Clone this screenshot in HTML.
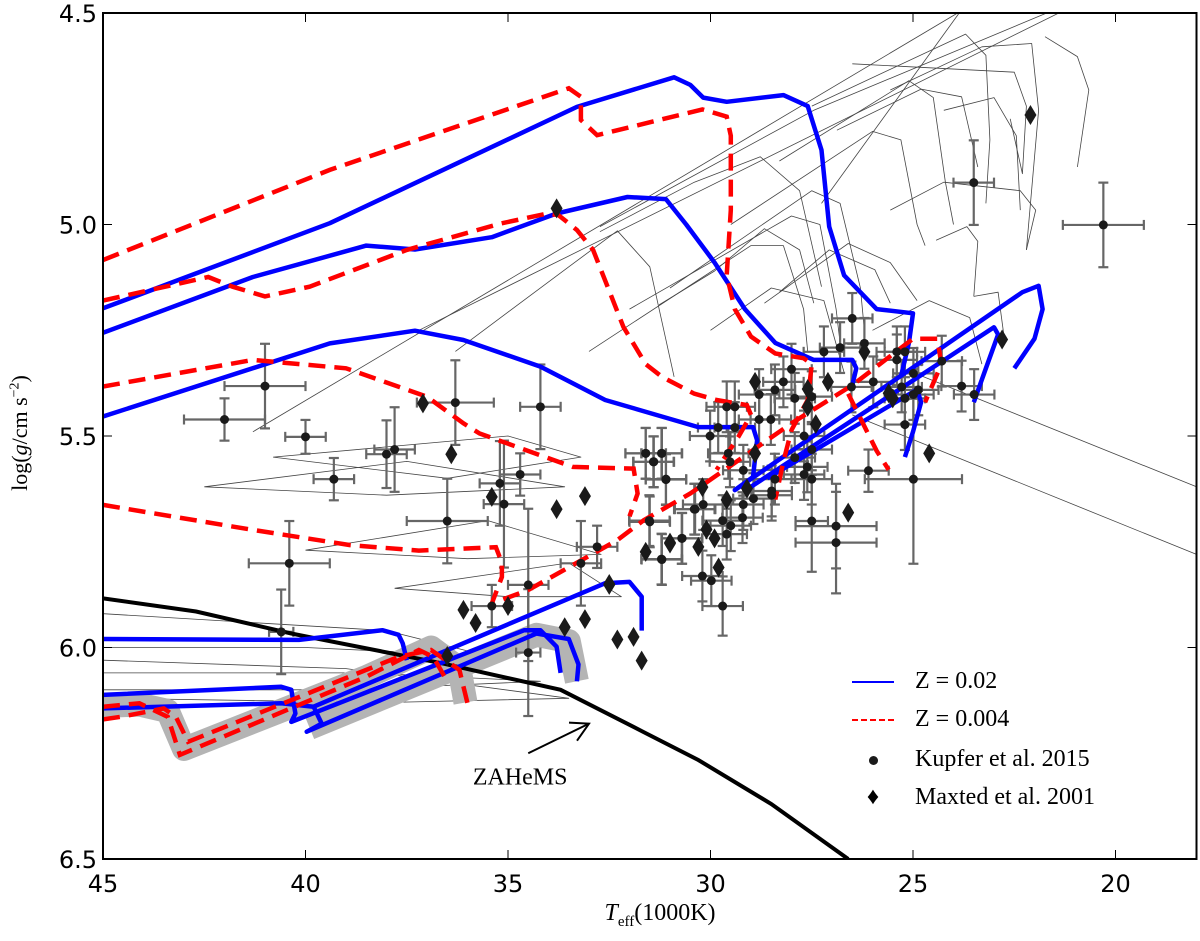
<!DOCTYPE html>
<html><head><meta charset="utf-8"><style>
html,body{margin:0;padding:0;background:#fff;}
svg{display:block;}
.tk{font-family:"DejaVu Sans","Liberation Sans",sans-serif;font-size:24px;fill:#000;}
.sr{font-family:"Liberation Serif",serif;fill:#000;}
</style></head><body>
<svg id="chart" width="1200" height="941" viewBox="0 0 1200 941">
<defs><clipPath id="pc"><rect x="103" y="13" width="1094" height="846"/></clipPath></defs>
<g id="plot" clip-path="url(#pc)"></g>
<g id="axes"></g>
</svg>
<script>
// ---- data (T in 1000K, log g) ----
const xTicks = [45, 40, 35, 30, 25, 20];
const yTicks = [4.5, 5.0, 5.5, 6.0, 6.5];
const zahems = [[45,5.884],[42.7,5.915],[40.35,5.967],[36.6,6.038],[33.7,6.1],[31.65,6.2],[30.3,6.266],[28.5,6.37],[26.6,6.5]];
const grayBand1 = [[45.5,6.14],[44.1,6.135],[43.4,6.15],[43.0,6.24],[38.5,6.07],[36.9,6.0],[36.2,6.05],[36.05,6.13]];
const grayBand2 = [[39.9,6.19],[34.3,5.97],[33.5,5.985],[33.3,6.08]];
const blue1 = [[45,5.198],[39.4,4.997],[33.3,4.722],[30.9,4.652],[30.5,4.67],[30.18,4.70],[29.6,4.71],[28.2,4.694],[27.6,4.72],[27.26,4.824],[27.07,5.005],[26.7,5.12],[25.9,5.2],[25.0,5.21],[25.1,5.28],[25.3,5.36]];
const blue2 = [[45,5.256],[41.3,5.124],[38.5,5.05],[37.3,5.059],[35.4,5.03],[33.8,4.974],[32.05,4.935],[31.1,4.94],[30.6,5.0],[29.9,5.09],[29.15,5.2],[28.4,5.28],[27.45,5.32],[26.5,5.32],[26.4,5.34],[26.5,5.38]];
const blue3 = [[45,5.454],[39.4,5.281],[37.3,5.251],[36.1,5.273],[34.2,5.336],[32.6,5.415],[30.3,5.479],[28.95,5.479],[28.85,5.51],[28.95,5.597],[29.4,5.628],[22.3,5.16],[21.9,5.145],[21.8,5.2],[22.0,5.27],[22.5,5.34]];
const blueHook2 = [[29.0,5.62],[23.0,5.243],[22.9,5.26],[23.2,5.34],[23.5,5.42]];
const blueHook3 = [[28.6,5.60],[24.9,5.39],[24.8,5.42],[25.0,5.49],[25.2,5.55]];
const blue4 = [[45,5.98],[40.16,5.982],[38.1,5.959],[37.7,5.97],[37.6,5.99],[37.5,6.03]];
const blue5 = [[45,6.112],[40.6,6.093],[40.35,6.10],[40.25,6.156],[40.35,6.176],[34.6,5.959],[34.2,5.959],[33.8,5.998],[33.7,6.06]];
const blue6 = [[45,6.144],[40.6,6.132],[39.8,6.14],[39.6,6.18],[39.97,6.199],[34.3,5.967],[33.5,5.98],[33.26,6.04],[33.3,6.08]];
const blue7 = [[39.8,6.14],[32.6,5.848],[32.0,5.845],[31.7,5.88],[31.7,5.96]];
const red1 = [[45,5.084],[39.4,4.871],[33.5,4.678],[33.2,4.698],[33.2,4.753],[32.8,4.789],[30.2,4.728],[29.6,4.745],[29.5,4.79],[29.5,4.966],[29.6,5.12],[29.4,5.2],[29.0,5.265],[28.4,5.305],[27.7,5.316],[27.5,5.33],[27.6,5.415],[28.0,5.486],[28.2,5.56],[28.4,5.65]];
const red2 = [[45,5.18],[42.4,5.124],[41.8,5.147],[41.0,5.17],[39.9,5.147],[37.5,5.06],[35.2,4.998],[34.03,4.974],[33.75,4.978],[33.3,5.013],[32.9,5.06],[32.15,5.242],[31.6,5.33],[31.2,5.36],[30.4,5.40],[29.85,5.415],[29.1,5.427],[29.0,5.45],[29.3,5.50],[29.85,5.58]];
const red3 = [[45,5.383],[41.3,5.32],[39.0,5.34],[37.0,5.407],[36.1,5.47],[35.7,5.494],[33.4,5.573],[31.9,5.577],[31.8,5.636],[32.0,5.69]];
const red4 = [[45,5.663],[41.3,5.722],[38.9,5.758],[37.2,5.771],[35.3,5.763],[35.15,5.8],[35.15,5.833],[35.4,5.896],[34.5,5.864],[32.3,5.746],[31.65,5.699],[30.5,5.636],[29.5,5.57],[28.0,5.47],[26.5,5.38],[25.0,5.27],[24.4,5.27],[24.3,5.33],[24.7,5.42]];
const red5 = [[45,6.17],[44.5,6.163],[43.5,6.144],[43.2,6.164],[42.9,6.223],[37.7,6.022],[36.9,6.006],[36.2,6.053],[36.0,6.132]];
const red6 = [[45,6.14],[44.1,6.132],[43.4,6.164],[43.1,6.254],[38.5,6.069],[37.2,6.006],[36.85,6.022],[36.5,6.08]];
const red7 = [[26.6,5.40],[25.9,5.535],[25.6,5.58]];
const thin1 = [[41.3,5.49],[23.9,4.5]];
const thin2 = [[37.2,5.25],[21.4,4.5]];
const thin3 = [[36.3,5.30],[33.5,5.1],[32.3,5.015],[31.5,5.1],[30.9,5.36]];
const thin4 = [[33.0,5.3],[29.0,5.05],[28.2,5.05],[27.7,5.2],[27.6,5.3]];
const thin5 = [[31.0,5.15],[27.5,4.92],[26.8,4.95],[26.3,5.15],[26.2,5.25]];
const thin6 = [[29.5,5.0],[26.0,4.78],[25.3,4.8],[24.9,5.0],[24.7,5.05]];
const thin7 = [[28.3,4.85],[25.1,4.66],[24.5,4.7],[24.2,4.9],[24.0,5.0]];
const thin8 = [[27.5,4.72],[23.7,4.55],[23.2,4.6],[23.1,4.8],[23.2,4.95]];
const thin9 = [[26.5,4.62],[22.5,4.64],[22.2,4.72],[22.3,4.88],[22.6,4.75]];
const thin10 = [[32.0,5.2],[28.0,4.98],[27.3,5.0],[26.9,5.2],[26.8,5.28]];
const thin11 = [[25.0,5.35],[18.0,5.62]];
const thin12 = [[26.5,5.45],[18.0,5.78]];
const thin13 = [[40.8,5.55],[35.0,5.50],[33.2,5.55],[36.5,5.60],[40.8,5.55]];
const thin14 = [[42.5,5.62],[37.5,5.56],[33.6,5.62],[38.0,5.64],[42.5,5.62]];
const thin15 = [[40.0,5.77],[35.5,5.70],[32.7,5.78],[36.0,5.79],[40.0,5.77]];
const thin16 = [[45,5.92],[38.0,5.96],[35.5,6.02],[40.0,6.0],[45,6.0]];
const thin17 = [[45,6.06],[38.5,6.06],[34.2,6.08],[39.0,6.1],[45,6.1]];
const thin18 = [[45,6.03],[39.0,6.05],[33.5,6.12],[38.0,6.13],[45,6.12]];
const thin19 = [[37.8,5.86],[33.5,5.8],[32.2,5.88],[35.0,5.88],[37.8,5.86]];
const hump1 = [[32.73,5.017],[30.4,4.9],[28.77,4.84],[27.8,4.92],[27.26,5.147]];
const hump2 = [[31.27,5.19],[29.9,5.11],[28.67,5.01],[27.8,5.06],[27.45,5.186]];
const hump3 = [[28.67,5.186],[26.6,5.045],[25.56,5.09],[24.9,5.18]];
const hump4 = [[26.88,4.777],[24.8,4.68],[23.8,4.698],[23.4,4.864]];
const hump5 = [[25.56,4.682],[23.3,4.58],[22.07,4.572],[21.9,4.73],[22.2,5.06]];
const hump6 = [[21.74,4.556],[20.94,4.603],[20.66,4.682],[20.94,4.864]];
const hump7 = [[24.24,4.73],[23.0,4.70],[22.45,4.79],[22.35,4.966]];
const hump8 = [[25.56,4.966],[24.24,4.9],[22.35,4.92],[21.97,4.966],[22.2,5.06]];
const hump9 = [[24.43,5.037],[23.67,5.005],[23.4,5.04],[23.5,5.17]];
const hump10 = [[23.5,5.17],[22.9,5.16],[22.73,5.28]];
const hump11 = [[28.3,5.16],[27.07,5.06],[25.94,5.107],[25.56,5.186]];
const hump12 = [[27.26,4.95],[23.86,4.5]];
const hump13 = [[32.73,5.005],[27.45,4.73],[21.7,4.5]];
const hump14 = [[30.0,5.25],[28.5,5.15],[27.2,5.18],[26.7,5.35]];
const hump15 = [[26.0,5.25],[24.6,5.18],[23.6,5.22],[23.3,5.33]];
// Kupfer et al. 2015
const kT = [26.5,27.2,26.8,26.2,25.4,25.2,25.4,28.0,28.2,28.41,28.8,27.92,27.5,29.6,29.4,28.8,28.51,29.81,29.4,30.01,27.69,27.5,26.52,25.98,25.28,24.99,24.29,23.8,23.49,25.2,24.99,24.87,25.2,31.6,31.21,31.41,31.1,29.56,29.52,29.19,28.41,27.92,27.69,27.61,27.5,28.49,28.49,28.94,29.19,29.21,29.7,29.5,29.6,30.38,30.18,31.51,30.71,31.21,30.2,29.98,29.7,27.5,26.9,26.9,26.1,24.99,41.0,42.0,36.3,34.2,40.0,38.0,37.8,39.3,35.2,35.1,34.7,36.5,40.4,40.6,34.5,35.4,34.5,33.2,32.8,31.6,31.4,31.2,31.1,31.5,31.2,30.7,30.4,23.5,20.3];
const kG = [5.222,5.301,5.291,5.281,5.301,5.301,5.32,5.342,5.372,5.391,5.402,5.411,5.407,5.431,5.431,5.461,5.461,5.48,5.48,5.5,5.5,5.532,5.384,5.372,5.384,5.352,5.323,5.382,5.402,5.411,5.402,5.391,5.473,5.541,5.541,5.561,5.602,5.541,5.561,5.581,5.602,5.551,5.591,5.573,5.602,5.63,5.64,5.648,5.662,5.693,5.7,5.712,5.732,5.673,5.662,5.7,5.742,5.791,5.831,5.842,5.902,5.701,5.713,5.752,5.582,5.602,5.382,5.461,5.421,5.431,5.502,5.543,5.532,5.602,5.612,5.661,5.591,5.701,5.801,5.963,5.852,5.902,6.012,5.801,5.762,5.541,5.561,5.541,5.603,5.703,5.792,5.742,5.673,4.901,5.001];
const kXe = [.5,.5,.5,.5,.5,.5,.5,.5,.5,.5,.5,.5,.5,.5,.5,.5,.5,.5,.5,.5,.5,.5,.5,.5,.5,.5,.5,.5,.5,.5,.5,.5,.5,.5,.5,.5,.5,.5,.5,.5,.5,.5,.5,.5,.5,.5,.5,.5,.5,.5,.5,.5,.5,.5,.5,.5,.5,.5,.5,.5,.5,.4,1.0,1.0,.5,1.2,1.0,1.0,.95,.5,.5,.5,.5,.5,.5,.5,.5,1.0,1.0,.3,.5,.5,.3,.5,.5,.5,.5,.5,.5,.5,.5,.5,.5,.5,1.0];
const kYe = [.06,.06,.06,.06,.06,.06,.06,.06,.06,.06,.06,.06,.06,.06,.06,.06,.06,.06,.06,.06,.06,.06,.06,.06,.06,.06,.06,.06,.06,.06,.06,.06,.06,.06,.06,.06,.06,.06,.06,.06,.06,.06,.06,.06,.06,.06,.06,.06,.06,.06,.06,.06,.06,.06,.06,.06,.06,.06,.06,.06,.07,.12,.1,.12,.05,.2,.1,.05,.1,.1,.04,.08,.1,.05,.1,.15,.05,.1,.1,.1,.18,.05,.15,.1,.05,.06,.06,.06,.06,.06,.06,.06,.06,.1,.1];
// Maxted et al. 2001
const mT = [33.8,37.1,36.4,35.4,33.8,33.1,31.0,36.1,35.8,35.0,33.6,33.1,32.5,32.3,31.9,31.7,36.5,28.9,27.1,27.6,27.6,27.4,28.9,29.1,26.2,25.6,25.5,22.8,24.6,26.6,30.2,29.6,30.1,29.9,30.3,29.8,31.0,31.6,32.5,22.1];
const mG = [4.962,5.423,5.543,5.644,5.673,5.642,5.752,5.911,5.942,5.902,5.952,5.933,5.85,5.981,5.975,6.031,6.02,5.372,5.372,5.389,5.431,5.472,5.541,5.624,5.301,5.399,5.411,5.272,5.541,5.681,5.621,5.651,5.721,5.742,5.762,5.811,5.754,5.774,5.852,4.741];

const NS = 'http://www.w3.org/2000/svg';
const X0 = 103, X1 = 1196.5, Y0 = 13, Y1 = 859;
function xs(t){ return X0 + (45 - t) * (X1 - X0) / 27; }
function ys(g){ return Y0 + (g - 4.5) * (Y1 - Y0) / 2; }
function mk(tag, attrs, parent){ const e = document.createElementNS(NS, tag); for (const k in attrs) e.setAttribute(k, attrs[k]); parent.appendChild(e); return e; }
function pth(arr){ return arr.map((p,i)=>(i?'L':'M')+xs(p[0]).toFixed(1)+' '+ys(p[1]).toFixed(1)).join(' '); }
const plot = document.getElementById('plot');
const axes = document.getElementById('axes');

// thin grey tracks
[thin1,thin2,thin3,thin4,thin5,thin6,thin7,thin8,thin9,thin10,thin11,thin12,thin13,thin14,thin15,thin16,thin17,thin18,thin19,
 hump1,hump2,hump3,hump4,hump5,hump6,hump7,hump8,hump9,hump10,hump11,hump12,hump13,hump14,hump15].forEach(a=>{
  const e = mk('path',{d:pth(a),fill:'none',stroke:'#444','stroke-width':0.8,'stroke-linejoin':'round'},plot);
  
  
});
// gray bands
[grayBand1,grayBand2].forEach(a=>{
  const e = mk('path',{d:pth(a),fill:'none',stroke:'#b4b4b4','stroke-width':24,'stroke-linejoin':'round'},plot);
  
  
});
// error bars
for (let i=0;i<kT.length;i++){
  const g = mk('g',{stroke:'#666','stroke-width':2.2},plot);
  
  
  const x=xs(kT[i]), y=ys(kG[i]), xa=xs(kT[i]+kXe[i]), xb=xs(kT[i]-kXe[i]), ya=ys(kG[i]-kYe[i]), yb=ys(kG[i]+kYe[i]);
  mk('line',{x1:xa,y1:y,x2:xb,y2:y},g); mk('line',{x1:x,y1:ya,x2:x,y2:yb},g);
  mk('line',{x1:xa,y1:y-5,x2:xa,y2:y+5},g); mk('line',{x1:xb,y1:y-5,x2:xb,y2:y+5},g);
  mk('line',{x1:x-5,y1:ya,x2:x+5,y2:ya},g); mk('line',{x1:x-5,y1:yb,x2:x+5,y2:yb},g);
}
// ZAHeMS
const zl = mk('path',{d:pth(zahems),fill:'none',stroke:'#000','stroke-width':4},plot);


// blue tracks
[blue1,blue2,blue3,blueHook2,blueHook3,blue4,blue5,blue6,blue7].forEach(a=>{
  const e = mk('path',{d:pth(a),fill:'none',stroke:'#0000ff','stroke-width':4.5,'stroke-linejoin':'round'},plot);
  
  
});
// red tracks
[red1,red2,red3,red4,red5,red6,red7].forEach(a=>{
  const e = mk('path',{d:pth(a),fill:'none',stroke:'#ff0000','stroke-width':4.5,'stroke-dasharray':'17 9'},plot);
  
  
});
for (let i=0;i<kT.length;i++){
  const c = mk('circle',{cx:xs(kT[i]),cy:ys(kG[i]),r:4.5,fill:'#1a1a1a'},plot);
  
  
}
for (let i=0;i<mT.length;i++){
  const x=xs(mT[i]), y=ys(mG[i]);
  const d = mk('polygon',{points:`${x},${y-10} ${x+6},${y} ${x},${y+10} ${x-6},${y}`,fill:'#1a1a1a'},plot);
  
  
}
// arrow + label
const ar = mk('g',{stroke:'#000','stroke-width':2,fill:'none'},plot);


const ax1=xs(34.5), ay1=ys(6.25), ax2=xs(33.0), ay2=ys(6.18);
mk('line',{x1:ax1,y1:ay1,x2:ax2,y2:ay2},ar);
mk('polyline',{points:`${ax2-20},${ay2-1} ${ax2},${ay2} ${ax2-12},${ay2+17}`},ar);
const zt = mk('text',{x:xs(34.7),y:ys(6.305)+8,'text-anchor':'middle','font-size':24,class:'sr'},plot);
zt.textContent='ZAHeMS';



// frame & ticks
mk('rect',{x:X0,y:Y0,width:X1-X0,height:Y1-Y0,fill:'none',stroke:'#000','stroke-width':2},axes);
xTicks.forEach(t=>{
  const x=xs(t);
  mk('line',{x1:x,y1:Y1,x2:x,y2:Y1-9,stroke:'#000','stroke-width':1},axes);
  mk('line',{x1:x,y1:Y0,x2:x,y2:Y0+9,stroke:'#000','stroke-width':1},axes);
  const tx = mk('text',{x:x,y:Y1+33,'text-anchor':'middle',class:'tk'},axes);
  tx.textContent=String(t);
  
  
});
yTicks.forEach(g=>{
  const y=ys(g);
  mk('line',{x1:X0,y1:y,x2:X0+9,y2:y,stroke:'#000','stroke-width':1},axes);
  mk('line',{x1:X1,y1:y,x2:X1-9,y2:y,stroke:'#000','stroke-width':1},axes);
  const tx = mk('text',{x:X0-6,y:y+9,'text-anchor':'end',class:'tk'},axes);
  tx.textContent=g.toFixed(1);
  
  
});
</script>
<div style="position:absolute;left:0;top:0;width:1200px;height:941px;pointer-events:none;">
  <div style="position:absolute;left:560px;top:900px;width:200px;text-align:center;font-family:'Liberation Serif',serif;font-size:24px;"><i>T</i><sub style="font-size:15px">eff</sub>(1000K)</div>
  <div style="position:absolute;left:-90px;top:420px;width:220px;text-align:center;transform:rotate(-90deg);font-family:'Liberation Serif',serif;font-size:22px;white-space:nowrap;">log(<i>g</i>/cm s<sup style="font-size:14px">−2</sup>)</div>
  <div style="position:absolute;left:840px;top:662px;width:340px;height:170px;font-family:'Liberation Serif',serif;font-size:24px;">
    <div style="position:absolute;left:12px;top:6px;white-space:nowrap;"><span style="display:inline-block;width:42px;height:0;border-top:2px solid #0000ff;vertical-align:middle;margin-right:21px;"></span>Z = 0.02</div>
    <div style="position:absolute;left:12px;top:44px;white-space:nowrap;"><span style="display:inline-block;width:42px;height:0;border-top:2px dashed #ff0000;vertical-align:middle;margin-right:21px;"></span>Z = 0.004</div>
    <div style="position:absolute;left:12px;top:84px;white-space:nowrap;"><span style="display:inline-block;width:42px;text-align:center;margin-right:21px;"><span style="display:inline-block;width:9px;height:9px;border-radius:50%;background:#1a1a1a;vertical-align:middle;"></span></span>Kupfer et al. 2015</div>
    <div style="position:absolute;left:12px;top:122px;white-space:nowrap;"><span style="display:inline-block;width:42px;text-align:center;margin-right:21px;">&#9830;</span>Maxted et al. 2001</div>
  </div>
</div>
</body></html>
